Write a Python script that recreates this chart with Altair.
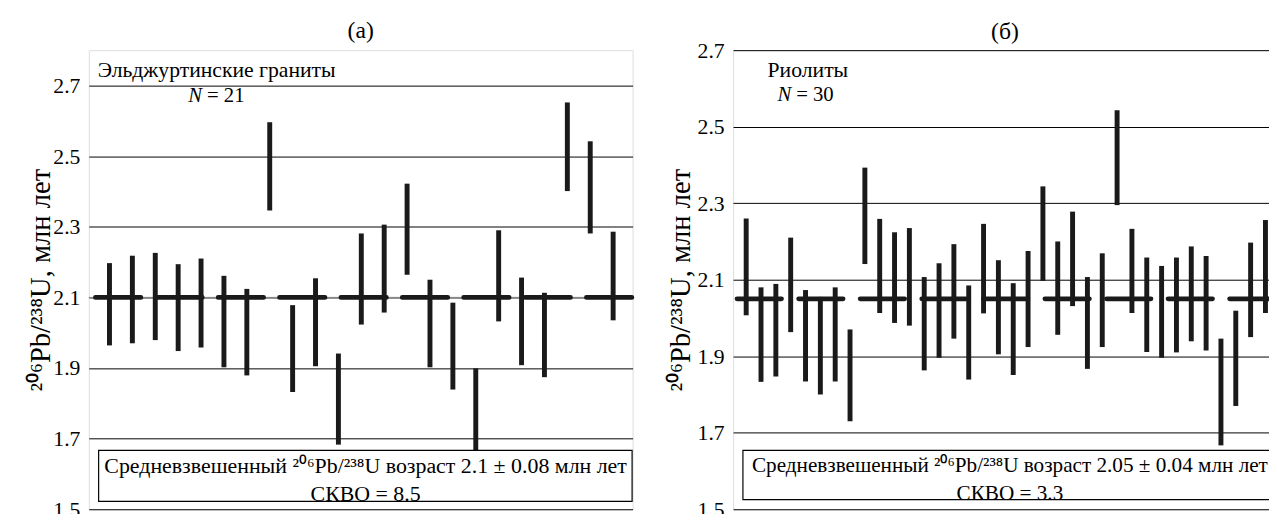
import altair as alt
import pandas as pd

FONT = "Liberation Serif"

# ---- Panel (а): Эльджуртинские граниты ----
left_lo = [1.964, 1.970, 1.979, 1.948, 1.958, 1.902, 1.879, 2.346, 1.832, 1.905, 1.683, 2.023,
           2.057, 2.164, 1.902, 1.839, 1.655, 2.032, 1.908, 1.874, 2.401, 2.281, 2.035]
left_hi = [2.197, 2.218, 2.226, 2.194, 2.210, 2.161, 2.124, 2.596, 2.078, 2.154, 1.941, 2.281,
           2.306, 2.422, 2.150, 2.085, 1.899, 2.290, 2.156, 2.113, 2.652, 2.542, 2.286]
left_mean = 2.1
left_ticks = [1.5, 1.7, 1.9, 2.1, 2.3, 2.5, 2.7]

# ---- Panel (б): Риолиты ----
right_lo = [2.007, 1.833, 1.847, 1.963, 1.834, 1.800, 1.834, 1.730, 2.141, 2.013, 1.987, 1.980,
            1.863, 1.896, 1.946, 1.839, 2.012, 1.905, 1.851, 1.924, 2.097, 1.956, 2.031, 1.867,
            1.924, 2.295, 2.013, 1.911, 1.896, 1.910, 1.939, 1.915, 1.667, 1.770, 1.950, 2.013]
right_hi = [2.260, 2.080, 2.089, 2.210, 2.073, 2.055, 2.080, 1.970, 2.393, 2.259, 2.224, 2.235,
            2.107, 2.143, 2.193, 2.085, 2.246, 2.151, 2.091, 2.175, 2.344, 2.200, 2.278, 2.107,
            2.169, 2.543, 2.233, 2.158, 2.136, 2.158, 2.187, 2.162, 1.946, 2.019, 2.197, 2.256]
right_mean = 2.05
right_ticks = [1.5, 1.7, 1.9, 2.1, 2.3, 2.5, 2.7]

W = 552
H = 466
YTITLE = "²⁰⁶Pb/²³⁸U, млн лет"


def text_layer(txt, x, y, size=22, style="normal", align="left", baseline="middle"):
    return alt.Chart(alt.Data(values=[{"t": txt}])).mark_text(
        font=FONT, fontSize=size, fontStyle=style, align=align, baseline=baseline, color="black"
    ).encode(text="t:N", x=alt.value(x), y=alt.value(y))


def panel(lo, hi, mean, ydom, ticks, xdom, title, title_off, title_pad, dash, dash_off,
          gray_line, label, label_x, nlabel, n_x, n_y, box_text, box_size, skvo, box_bottom):
    df = pd.DataFrame({"i": list(range(len(lo))), "lo": lo, "hi": hi})
    xs = alt.Scale(domain=xdom, nice=False, zero=False)
    ys = alt.Scale(domain=ydom, nice=False, zero=False)
    base = alt.Chart(df)
    yaxis = alt.Axis(values=ticks, grid=True, gridColor="black", gridWidth=1, gridOpacity=1,
                     ticks=False, domain=False, labelFont=FONT, labelFontSize=22,
                     labelPadding=9, labelColor="black", format=".1f",
                     title=YTITLE, titleFont=FONT, titleFontSize=29, titleFontWeight="normal",
                     titleColor="black", titlePadding=title_pad, titleBaseline="alphabetic")
    layers = []
    mean_df = alt.Data(values=[{"m": mean}])
    if gray_line:
        layers.append(alt.Chart(mean_df).mark_rule(color="#8a8a8a", strokeWidth=1).encode(
            x=alt.value(0), x2=alt.value(W), y=alt.Y("m:Q", scale=ys, axis=yaxis)))
    layers.append(base.mark_rule(color="#1a1a1a", strokeWidth=5).encode(
        x=alt.X("i:Q", scale=xs, axis=None),
        y=alt.Y("lo:Q", scale=ys, axis=yaxis),
        y2="hi:Q"))
    layers.append(alt.Chart(mean_df).mark_rule(
        color="#1a1a1a", strokeWidth=5, strokeDash=dash, strokeDashOffset=dash_off,
        strokeCap="round").encode(
        x=alt.value(0), x2=alt.value(W), y=alt.Y("m:Q", scale=ys, axis=yaxis)))
    layers.append(alt.Chart(alt.Data(values=[{}])).mark_rect(
        fill="white", stroke="black", strokeWidth=1.2).encode(
        x=alt.value(10), x2=alt.value(551.5), y=alt.value(406.3), y2=alt.value(box_bottom)))
    layers.append(text_layer(box_text, 281, 422, size=box_size, align="center"))
    layers.append(text_layer(skvo, 281, 451, size=box_size, align="center"))
    layers.append(text_layer(label, label_x, 20, size=22))
    layers.append(text_layer("N", n_x, n_y, size=21, style="italic"))
    layers.append(text_layer("= " + nlabel, n_x + 19, n_y, size=21))
    return alt.layer(*layers).properties(
        width=W, height=H,
        title=alt.TitleParams(title, font=FONT, fontSize=24, fontWeight="normal",
                              color="black", offset=title_off, frame="group"))


left = panel(left_lo, left_hi, left_mean, [1.5, 2.8], left_ticks, [-0.904, 22.85], "(а)", 7, 3,
             [46, 16.3], 55.5, True, "Эльджуртинские граниты", 9, "21", 101, 47,
             "Средневзвешенный ²⁰⁶Pb/²³⁸U возраст 2.1 ± 0.08 млн лет", 22.2, "СКВО = 8.5", 458)
right = panel(right_lo, right_hi, right_mean, [1.5, 2.7], right_ticks, [-0.883, 35.77], "(б)", -5, 8,
              [45, 17.5], 58.4, False, "Риолиты", 35, "30", 45, 46,
              "Средневзвешенный ²⁰⁶Pb/²³⁸U возраст 2.05 ± 0.04 млн лет", 21.5, "СКВО = 3.3", 456.3)

chart = alt.hconcat(left, right, spacing=31).properties(
    padding={"top": 7, "left": 19, "right": -11, "bottom": -11}
).configure_view(stroke="black", strokeWidth=1.5).configure(background="white")

chart.save("out.html", embed_options={"renderer": "svg", "actions": False})
